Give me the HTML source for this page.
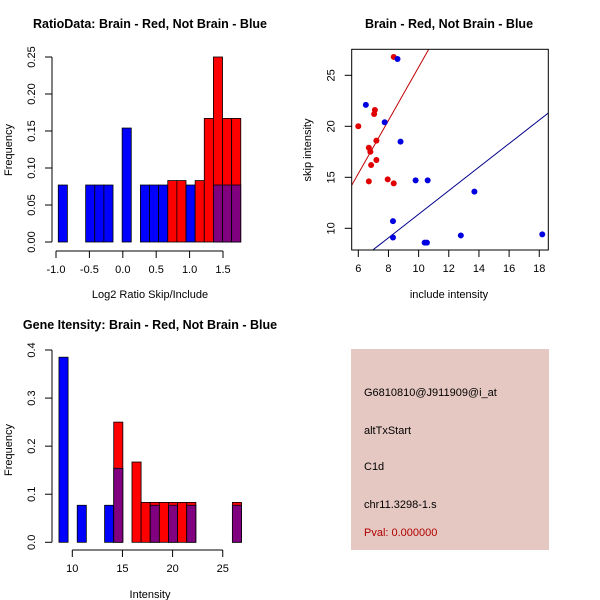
<!DOCTYPE html>
<html><head><meta charset="utf-8"><style>
html,body{margin:0;padding:0;background:#fff;}
svg{display:block;font-family:"Liberation Sans",sans-serif;}
</style></head><body>
<svg id="s" width="600" height="600" viewBox="0 0 600 600">
<rect x="0" y="0" width="600" height="600" fill="#fff"/>
<g>
<rect x="351" y="349" width="198" height="201" fill="#e6c8c2"/>
<text x="364" y="396" font-size="11">G6810810@J911909@i_at</text>
<text x="364" y="434" font-size="11">altTxStart</text>
<text x="364" y="470" font-size="11">C1d</text>
<text x="364" y="508" font-size="11">chr11.3298-1.s</text>
<text x="364" y="536" font-size="11" fill="#b00000">Pval: 0.000000</text>
</g>
</svg>
<script>
// Ratio histogram (20 bins)
const ratioBinStart = -0.966, ratioBinWidth = 0.1366;
const ratioBlue = [0.077,0,0,0.077,0.077,0.077,0,0.154,0,0.077,0.077,0.077,0,0,0.077,0,0,0.077,0.077,0.077];
const ratioRed  = [0,0,0,0,0,0,0,0,0,0,0,0,0.083,0.083,0,0.083,0.167,0.25,0.167,0.167];
const ratioXTicks = [-1.0,-0.5,0.0,0.5,1.0,1.5];
const ratioYTicks = [0,0.05,0.10,0.15,0.20,0.25];
// Intensity histogram (20 bins)
const intBinStart = 8.67, intBinWidth = 0.91;
const intBlue = [0.385,0,0.077,0,0,0.077,0.154,0,0,0,0.077,0,0.077,0,0.077,0,0,0,0,0.077];
const intRed  = [0,0,0,0,0,0,0.25,0,0.167,0.083,0.083,0.083,0.083,0.083,0.083,0,0,0,0,0.083];
const intXTicks = [10,15,20,25];
const intYTicks = [0,0.1,0.2,0.3,0.4];
// Scatter
const redInclude = [8.35,6.0,7.1,7.05,7.2,6.7,6.8,6.85,7.2,6.7,7.95,8.35];
const redSkip    = [26.8,20.0,21.6,21.2,18.6,17.9,17.5,16.2,16.7,14.6,14.8,14.4];
const blueInclude = [8.6,6.5,7.75,8.8,9.8,10.6,13.7,8.3,8.3,10.4,10.55,12.8,18.2];
const blueSkip    = [26.6,22.1,20.4,18.5,14.7,14.7,13.6,10.7,9.1,8.6,8.6,9.3,9.4];
const redFit = [-0.3, 2.61];   // intercept, slope
const blueFit = [-0.16, 1.154];
const scatXTicks = [6,8,10,12,14,16,18];
const scatYTicks = [10,15,20,25];

const NS='http://www.w3.org/2000/svg', svg=document.getElementById('s');
function el(tag, attrs, parent){const e=document.createElementNS(NS,tag);for(const k in attrs)e.setAttribute(k,attrs[k]);(parent||svg).appendChild(e);return e;}
function txt(x,y,s,size,extra,parent){const t=el('text',Object.assign({x:x,y:y,'font-size':size,'text-anchor':'middle'},extra||{}),parent);t.textContent=s;return t;}
function fmt(v,d){return v.toFixed(d);}

function hist(cfg){
  const g=el('g',{});
  
  
  const X=v=>cfg.px0+(v-cfg.xv0)*cfg.xs, Y=v=>cfg.py0-(v-cfg.yv0)*cfg.ys;
  for(let i=0;i<cfg.blue.length;i++){
    const b=cfg.blue[i], r=cfg.red[i];
    const x0=X(cfg.start+i*cfg.width), x1=X(cfg.start+(i+1)*cfg.width);
    const draw=(v,col,nm)=>{ if(v<=0) return; const rc=el('rect',{x:x0,y:Y(v),width:x1-x0,height:Y(0)-Y(v),fill:col,stroke:'#000','stroke-width':0.8},g);
      
       };
    if(r>=b){ draw(r,'#ff0000','bar-red'); if(b>0) draw(b,'#800080','bar-overlap'); }
    else { draw(b,'#0000ff','bar-blue'); if(r>0) draw(r,'#800080','bar-overlap'); }
  }
  const yt=cfg.yTicks;
  el('line',{x1:cfg.axX,x2:cfg.axX,y1:Y(yt[0]),y2:Y(yt[yt.length-1]),stroke:'#000'},g);
  yt.forEach(v=>{el('line',{x1:cfg.axX-7,x2:cfg.axX,y1:Y(v),y2:Y(v),stroke:'#000'},g);
    const t=txt(cfg.axX-17,Y(v),fmt(v,cfg.yd),11,{transform:`rotate(-90 ${cfg.axX-17} ${Y(v)})`},g);
    });
  const xt=cfg.xTicks;
  el('line',{x1:X(xt[0]),x2:X(xt[xt.length-1]),y1:cfg.axY,y2:cfg.axY,stroke:'#000'},g);
  xt.forEach(v=>{el('line',{x1:X(v),x2:X(v),y1:cfg.axY,y2:cfg.axY+7,stroke:'#000'},g);
    const t=txt(X(v),cfg.axY+22,fmt(v,cfg.xd),11,{},g);
    });
}
hist({name:'ratio-histogram',blue:ratioBlue,red:ratioRed,start:ratioBinStart,width:ratioBinWidth,
  px0:56,xv0:-1,xs:66.8,py0:242,yv0:0,ys:740,axX:52,axY:251,xTicks:ratioXTicks,yTicks:ratioYTicks,xd:1,yd:2});
hist({name:'intensity-histogram',blue:intBlue,red:intRed,start:intBinStart,width:intBinWidth,
  px0:72.3,xv0:10,xs:10.03,py0:542.3,yv0:0,ys:480.75,axX:52,axY:550,xTicks:intXTicks,yTicks:intYTicks,xd:0,yd:1});

// titles & axis labels
[[150,28,'RatioData: Brain - Red, Not Brain - Blue','ratio-title'],[449,28,'Brain - Red, Not Brain - Blue','scatter-title'],
 [150,329,'Gene Itensity: Brain - Red, Not Brain - Blue','intensity-title']].forEach(a=>{
  const t=txt(a[0],a[1],a[2],12.5,{'font-weight':'bold'});});
[[150,298,'Log2 Ratio Skip/Include','ratio-x-title'],[449,298,'include intensity','scatter-x-title'],[150,598,'Intensity','intensity-x-title']].forEach(a=>{
  const t=txt(a[0],a[1],a[2],11);});
[[12,150,'Frequency','ratio-y-title'],[311,150,'skip intensity','scatter-y-title'],[12,450,'Frequency','intensity-y-title']].forEach(a=>{
  const t=txt(a[0],a[1],a[2],11,{transform:`rotate(-90 ${a[0]} ${a[1]})`});});

// scatter
(function(){
  const g=el('g',{});
  
  
  const L=351.7,R=548.3,T=49.3,B=250;
  const X=v=>358.3+(v-6)*15.08, Y=v=>75.3-(v-25)*10.2;
  const cp=el('clipPath',{id:'cp'},g); el('rect',{x:L,y:T,width:R-L,height:B-T},cp);
  const line=(f,col,nm)=>{const xa=5,xb=19;const l=el('line',{x1:X(xa),y1:Y(f[0]+f[1]*xa),x2:X(xb),y2:Y(f[0]+f[1]*xb),stroke:col,'stroke-width':1,'clip-path':'url(#cp)'},g);
    };
  line(redFit,'#c00000','red-fit-line'); line(blueFit,'#00008b','blue-fit-line');
  const pts=(xs,ys,col,nm)=>xs.forEach((v,i)=>{const c=el('circle',{cx:X(v),cy:Y(ys[i]),r:3,fill:col},g);
    });
  pts(redInclude,redSkip,'#e00000','point-brain'); pts(blueInclude,blueSkip,'#0000e0','point-not-brain');
  el('rect',{x:L,y:T,width:R-L,height:B-T,fill:'none',stroke:'#000'},g);
  scatXTicks.forEach(v=>{el('line',{x1:X(v),x2:X(v),y1:B,y2:B+7,stroke:'#000'},g);
    const t=txt(X(v),B+22,String(v),11,{},g);});
  scatYTicks.forEach(v=>{el('line',{x1:L-7,x2:L,y1:Y(v),y2:Y(v),stroke:'#000'},g);
    const t=txt(L-17,Y(v),String(v),11,{transform:`rotate(-90 ${L-17} ${Y(v)})`},g);});
})();
</script>
</body></html>
